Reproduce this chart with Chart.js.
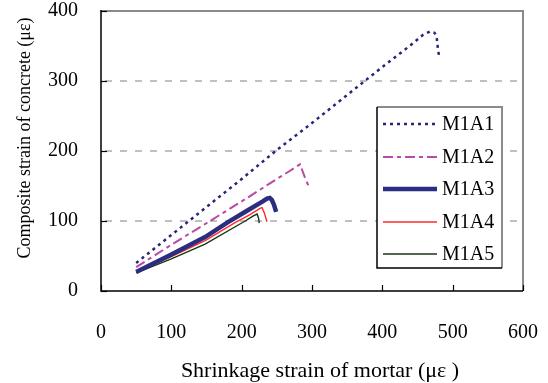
<!DOCTYPE html>
<html><head><meta charset="utf-8">
<script src="https://cdn.jsdelivr.net/npm/chart.js@4.4.1/dist/chart.umd.min.js"></script>
<style>html,body{margin:0;padding:0;background:#fff}#wrap{width:548px;height:383px}</style>
</head><body><div id="wrap"><canvas id="c" width="548" height="383"></canvas></div>
<script>
// ---- data ----
const xTickValues = [0, 100, 200, 300, 400, 500, 600];
const yTickValues = [0, 100, 200, 300, 400];
const seriesNames = ['M1A1', 'M1A2', 'M1A3', 'M1A4', 'M1A5'];
const xTitle = 'Shrinkage strain of mortar (\u03BC\u03B5 )';
const yTitle = 'Composite strain of concrete (\u03BC\u03B5)';

const m1a1X = [50, 100, 150, 200, 247, 300, 350, 375, 400, 440, 458, 468, 474, 477, 478, 479, 481];
const m1a1Y = [40, 80, 120, 160, 199, 240, 280, 300, 320, 351, 366, 371, 369, 365, 356, 346, 334];
const m1a2X = [50, 100, 155, 200, 250, 266, 283, 290, 296];
const m1a2Y = [34, 66, 100, 128, 160, 170, 181, 162, 148];
const m1a3X = [50, 100, 148, 180, 210, 230, 236, 240, 243, 246, 249];
const m1a3Y = [27, 52, 77, 98, 116, 128, 132, 133, 130, 123, 113];
const m1a4X = [50, 100, 148, 193, 210, 226, 229, 232, 236];
const m1a4Y = [27, 49, 72, 99, 108, 118, 119, 112, 99];
const m1a5X = [50, 100, 148, 205, 216, 222, 224, 225];
const m1a5Y = [26, 46, 67, 100, 107, 110, 104, 97];

const seriesX = [m1a1X, m1a2X, m1a3X, m1a4X, m1a5X];
const seriesY = [m1a1Y, m1a2Y, m1a3Y, m1a4Y, m1a5Y];
const seriesColors = ['#25257a', '#b64aa6', '#2b2d80', '#ff2a2a', '#173517'];
const seriesWidths = [2.5, 2, 4.5, 1.4, 1.4];
const seriesDashes = [[3, 4], [10, 4, 4, 4], [], [], []];

const FONT = '"Liberation Serif", "Times New Roman", serif';

const datasets = seriesNames.map((name, i) => ({
  label: name,
  data: seriesX[i].map((x, j) => ({x: x, y: seriesY[i][j]})),
  borderColor: seriesColors[i],
  backgroundColor: seriesColors[i],
  borderWidth: seriesWidths[i],
  borderDash: seriesDashes[i],
  pointRadius: 0,
  tension: 0,
  fill: false,
  borderCapStyle: 'butt'
}));

function zeroPad(s) { s.paddingTop = 0; s.paddingBottom = 0; s.paddingLeft = 0; s.paddingRight = 0; }

const decor = {
  id: 'decor',
  beforeDatasetsDraw(chart) {
    const {ctx, chartArea: a, scales: {x, y}} = chart;
    ctx.save();
    ctx.strokeStyle = '#c0c0c0';
    ctx.lineWidth = 2;
    ctx.setLineDash([7, 8]);
    yTickValues.forEach(v => {
      if (v === y.min || v === y.max) return;
      const py = Math.round(y.getPixelForValue(v));
      ctx.beginPath(); ctx.moveTo(a.left + 4, py); ctx.lineTo(a.right, py); ctx.stroke();
    });
    ctx.restore();
  },
  afterDraw(chart) {
    const {ctx, chartArea: a, scales: {x, y}} = chart;
    ctx.save();
    // frame
    ctx.strokeStyle = '#8a8a8a'; ctx.lineWidth = 2;
    ctx.beginPath(); ctx.moveTo(a.left, a.top); ctx.lineTo(a.right, a.top); ctx.lineTo(a.right, a.bottom); ctx.stroke();
    ctx.strokeStyle = '#000'; ctx.lineWidth = 1.5;
    ctx.beginPath(); ctx.moveTo(a.left, a.top - 1); ctx.lineTo(a.left, a.bottom); ctx.lineTo(a.right, a.bottom); ctx.stroke();
    // inward ticks
    ctx.lineWidth = 1.2;
    xTickValues.forEach(v => {
      const px = Math.round(x.getPixelForValue(v)) + 0.5;
      ctx.beginPath(); ctx.moveTo(px, a.bottom); ctx.lineTo(px, a.bottom - 6); ctx.stroke();
    });
    yTickValues.forEach(v => {
      const py = Math.round(y.getPixelForValue(v)) + 0.5;
      ctx.beginPath(); ctx.moveTo(a.left, py); ctx.lineTo(a.left + 6, py); ctx.stroke();
    });
    // legend
    const lx = 377, ly = 107, lw = 125, lh = 161;
    ctx.fillStyle = '#fff';
    ctx.fillRect(lx, ly, lw, lh);
    ctx.strokeStyle = '#8a8a8a'; ctx.lineWidth = 2;
    ctx.beginPath(); ctx.moveTo(lx, ly); ctx.lineTo(lx + lw, ly); ctx.lineTo(lx + lw, ly + lh); ctx.stroke();
    ctx.strokeStyle = '#000'; ctx.lineWidth = 1.5;
    ctx.beginPath(); ctx.moveTo(lx, ly); ctx.lineTo(lx, ly + lh); ctx.lineTo(lx + lw, ly + lh); ctx.stroke();
    chart.data.datasets.forEach((ds, i) => {
      const cy = 124 + i * 32.5;
      ctx.strokeStyle = ds.borderColor;
      ctx.lineWidth = ds.borderWidth;
      ctx.setLineDash(ds.borderDash || []);
      ctx.beginPath(); ctx.moveTo(383, Math.round(cy)); ctx.lineTo(437, Math.round(cy)); ctx.stroke();
      ctx.setLineDash([]);
      ctx.fillStyle = '#000';
      ctx.font = '20px ' + FONT;
      ctx.textBaseline = 'middle';
      ctx.textAlign = 'left';
      ctx.fillText(ds.label, 442, cy + 1);
    });
    // axis titles
    ctx.fillStyle = '#000';
    ctx.textAlign = 'center';
    ctx.textBaseline = 'middle';
    ctx.font = '22px ' + FONT;
    ctx.fillText(xTitle, 320, 371);
    ctx.translate(25, 138);
    ctx.rotate(-Math.PI / 2);
    ctx.font = '18px ' + FONT;
    ctx.fillText(yTitle, 0, 0);
    ctx.restore();
  }
};

new Chart(document.getElementById('c'), {
  type: 'line',
  data: {datasets},
  options: {
    responsive: false,
    animation: false,
    devicePixelRatio: 1,
    layout: {autoPadding: false, padding: {left: 0, right: 25, top: 11, bottom: 0}},
    plugins: {legend: {display: false}, tooltip: {enabled: false}, title: {display: false}},
    scales: {
      x: {
        type: 'linear', min: 0, max: 600,
        afterFit: s => { s.height = 92; zeroPad(s); },
        afterBuildTicks: s => { s.ticks = xTickValues.map(v => ({value: v})); },
        grid: {display: false, drawTicks: false},
        border: {display: false},
        ticks: {color: '#000', font: {family: FONT, size: 20}, padding: 30, maxRotation: 0}
      },
      y: {
        type: 'linear', min: 0, max: 400,
        afterFit: s => { s.width = 101; zeroPad(s); },
        afterBuildTicks: s => { s.ticks = yTickValues.map(v => ({value: v})); },
        grid: {display: false, drawTicks: false},
        border: {display: false},
        ticks: {color: '#000', font: {family: FONT, size: 20}, padding: 23}
      }
    }
  },
  plugins: [decor]
});
</script>
</body></html>
